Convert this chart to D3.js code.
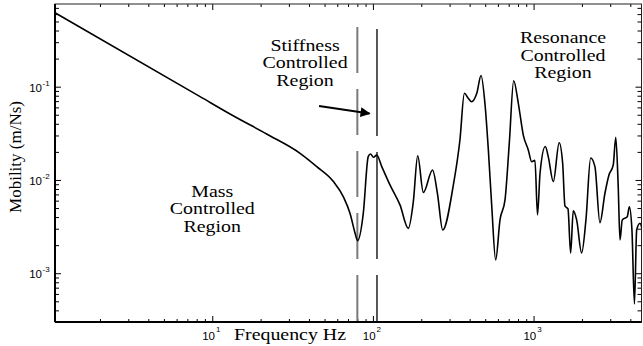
<!DOCTYPE html>
<html>
<head>
<meta charset="utf-8">
<script src="https://cdn.jsdelivr.net/npm/d3@7"></script>
<style>
  body { margin: 0; background: #fff; }
  svg { display: block; }
  .serif { font-family: "Liberation Serif", "Times New Roman", serif; }
  .sans { font-family: "Liberation Sans", Arial, sans-serif; }
</style>
</head>
<body>
<svg id="chart" width="643" height="346"></svg>
<script>
// frequency (Hz) and mobility (m/Ns)
const freq = [1.05, 8.4, 13.5, 21.8, 35.2, 44.7, 56.8, 65.5, 72.0, 77.4,
    80.2, 87.1, 93.5, 96.6, 100.9, 105.6, 113.5, 127.7, 147.4, 166.1,
    178.4, 190, 206, 235, 252, 272, 316, 348, 371, 392,
    412, 443, 471, 499, 523, 549, 581, 618, 664, 706,
    752, 803, 863, 927, 973, 1020, 1058, 1097, 1183, 1234,
    1327, 1443, 1517, 1568, 1637, 1701, 1766, 1854, 1991, 2118,
    2266, 2409, 2588, 2781, 2946, 3133, 3247, 3364, 3450, 3565,
    3829, 3944, 4095, 4244, 4383, 4597, 4730];
const mobility = [0.621, 0.0782, 0.0488, 0.0311, 0.0193, 0.0139, 0.0096, 0.0066, 0.0044, 0.0027,
    0.00223, 0.00439, 0.0178, 0.019, 0.0175, 0.0185, 0.0139, 0.00884, 0.0054, 0.00303,
    0.00581, 0.0182, 0.00735, 0.0128, 0.0072, 0.00291, 0.00863, 0.0268, 0.0849, 0.0751,
    0.069, 0.0849, 0.132, 0.0637, 0.021, 0.00526, 0.00139, 0.00373, 0.00611, 0.0247,
    0.1156, 0.0668, 0.0303, 0.021, 0.0157, 0.0162, 0.00422, 0.0118, 0.0228, 0.0178,
    0.0096, 0.0251, 0.0151, 0.00526, 0.00489, 0.00165, 0.00466, 0.00373, 0.00165, 0.00373,
    0.0172, 0.0139, 0.00348, 0.0072, 0.0113, 0.0145, 0.0287, 0.00848, 0.00228, 0.00373,
    0.00404, 0.00514, 0.00291, 0.000469, 0.00291, 0.00343, 0.00299];

const xMajor = [10, 100, 1000];
const xExp = ["1", "2", "3"];
const yMajor = [0.1, 0.01, 0.001];
const yExp = ["-1", "-2", "-3"];

// region boundaries (Hz)
const boundaries = [80, 106];

const regionLabels = [
    {lines: ["Mass", "Controlled", "Region"], f: 10, v: 0.00662},
    {lines: ["Stiffness", "Controlled", "Region"], f: 37.8, v: 0.243},
    {lines: ["Resonance", "Controlled", "Region"], f: 1524, v: 0.292}
];
const arrowFrom = [46.2, 0.0621];
const arrowTo = [95.3, 0.0516];

const margin = {top: 4, right: 1, bottom: 24, left: 55};
const width = 643, height = 346;

const svg = d3.select("#chart");

const x = d3.scaleLog()
    .domain([1.05, 4730])
    .range([margin.left, width - margin.right]);

const y = d3.scaleLog()
    .domain([3.0e-4, 0.77])
    .range([height - margin.bottom, margin.top]);

const plotTop = margin.top, plotBottom = height - margin.bottom;
const plotLeft = margin.left, plotRight = width - margin.right - 0.5;

svg.append("defs").append("clipPath")
    .attr("id", "plot-clip")
    .append("rect")
    .attr("x", plotLeft).attr("y", plotTop)
    .attr("width", plotRight - plotLeft).attr("height", plotBottom - plotTop);

// ticks (pointing inward on all four sides)
const xMinor = x.ticks().filter(t => !xMajor.some(m => Math.abs(m - t) < 1e-9));
const yMinor = y.ticks().filter(t => !yMajor.some(m => Math.abs(m - t) / m < 1e-6));

function tickAxis(axisFn, scale, values, size, transform) {
    svg.append("g")
        .attr("transform", transform)
        .call(axisFn(scale).tickValues(values).tickSize(size).tickFormat(""))
        .call(g => g.select(".domain").remove())
        .call(g => g.selectAll("line").attr("stroke", "#000").attr("stroke-width", 1));
}

tickAxis(d3.axisBottom, x, xMinor, -3, `translate(0,${plotBottom})`);
tickAxis(d3.axisBottom, x, xMajor, -6, `translate(0,${plotBottom})`);
tickAxis(d3.axisTop, x, xMinor, -3, `translate(0,${plotTop})`);
tickAxis(d3.axisTop, x, xMajor, -6, `translate(0,${plotTop})`);
tickAxis(d3.axisLeft, y, yMinor, -4, `translate(${plotLeft},0)`);
tickAxis(d3.axisLeft, y, yMajor, -6, `translate(${plotLeft},0)`);
tickAxis(d3.axisRight, y, yMinor, -4, `translate(${plotRight},0)`);
tickAxis(d3.axisRight, y, yMajor, -6, `translate(${plotRight},0)`);

// frame
svg.append("rect")
    .attr("x", plotLeft).attr("y", plotTop)
    .attr("width", plotRight - plotLeft).attr("height", plotBottom - plotTop)
    .attr("fill", "none")
    .attr("stroke", "#222")
    .attr("stroke-width", 1);
svg.append("line")
    .attr("x1", plotLeft).attr("x2", plotRight)
    .attr("y1", plotBottom).attr("y2", plotBottom)
    .attr("stroke", "#000").attr("stroke-width", 2);
svg.append("line")
    .attr("x1", plotLeft).attr("x2", plotLeft)
    .attr("y1", plotTop).attr("y2", plotBottom)
    .attr("stroke", "#000").attr("stroke-width", 2);

// tick labels with superscript exponents
xMajor.forEach((t, i) => {
    const txt = svg.append("text")
        .attr("class", "sans")
        .attr("x", x(t) - 1)
        .attr("y", plotBottom + 18)
        .attr("text-anchor", "middle")
        .style("font-size", "11.5px");
    txt.append("tspan").text("10");
    txt.append("tspan").attr("dy", -8).attr("dx", 1).style("font-size", "8px").text(xExp[i]);
});

yMajor.forEach((t, i) => {
    svg.append("text")
        .attr("class", "sans")
        .attr("x", 42)
        .attr("y", y(t) + 5)
        .attr("text-anchor", "end")
        .style("font-size", "11.5px")
        .text("10");
    svg.append("text")
        .attr("class", "sans")
        .attr("x", 42.5)
        .attr("y", y(t) - 1)
        .style("font-size", "8px")
        .text(yExp[i]);
});

// axis titles
svg.append("text")
    .attr("class", "serif")
    .attr("transform", `translate(290,340) scale(1.17,1)`)
    .attr("text-anchor", "middle")
    .style("font-size", "17px")
    .text("Frequency Hz");

svg.append("text")
    .attr("class", "serif")
    .attr("transform", `translate(20.5,157) rotate(-90)`)
    .attr("text-anchor", "middle")
    .style("font-size", "17px")
    .text("Mobility (m/Ns)");

// region boundary lines
const bLines = [
    {f: boundaries[0], y0: 27, color: "#7a7a7a", w: 2, dash: "46,16"},
    {f: boundaries[1], y0: 29, color: "#000", w: 1.3, dash: "107,16"}
];
bLines.forEach(b => {
    svg.append("line")
        .attr("x1", x(b.f)).attr("x2", x(b.f))
        .attr("y1", b.y0).attr("y2", plotBottom)
        .attr("stroke", b.color)
        .attr("stroke-width", b.w)
        .attr("stroke-dasharray", b.dash);
});

// mobility curve
const line = d3.line()
    .x(d => x(d[0]))
    .y(d => y(d[1]))
    .curve(d3.curveMonotoneX);

svg.append("path")
    .datum(freq.map((f, i) => [f, mobility[i]]))
    .attr("clip-path", "url(#plot-clip)")
    .attr("fill", "none")
    .attr("stroke", "#000")
    .attr("stroke-width", 1.6)
    .attr("stroke-linejoin", "round")
    .attr("d", line);

// region labels
regionLabels.forEach(r => {
    const t = svg.append("text")
        .attr("class", "serif")
        .attr("transform", `translate(${x(r.f)},${y(r.v)}) scale(1.17,1)`)
        .attr("text-anchor", "middle")
        .style("font-size", "17px");
    r.lines.forEach((s, i) => {
        t.append("tspan").attr("x", 0).attr("dy", i === 0 ? 0 : 17.6).text(s);
    });
});

// arrow pointing into the stiffness region
svg.append("defs").append("marker")
    .attr("id", "arrowhead")
    .attr("viewBox", "0 0 10 10")
    .attr("refX", 9).attr("refY", 5)
    .attr("markerWidth", 7).attr("markerHeight", 5)
    .attr("markerUnits", "strokeWidth")
    .attr("orient", "auto")
    .append("path")
    .attr("d", "M0,0 L10,5 L0,10 z")
    .attr("fill", "#000");

svg.append("line")
    .attr("x1", x(arrowFrom[0])).attr("y1", y(arrowFrom[1]))
    .attr("x2", x(arrowTo[0])).attr("y2", y(arrowTo[1]))
    .attr("stroke", "#000")
    .attr("stroke-width", 2)
    .attr("marker-end", "url(#arrowhead)");
</script>
</body>
</html>
